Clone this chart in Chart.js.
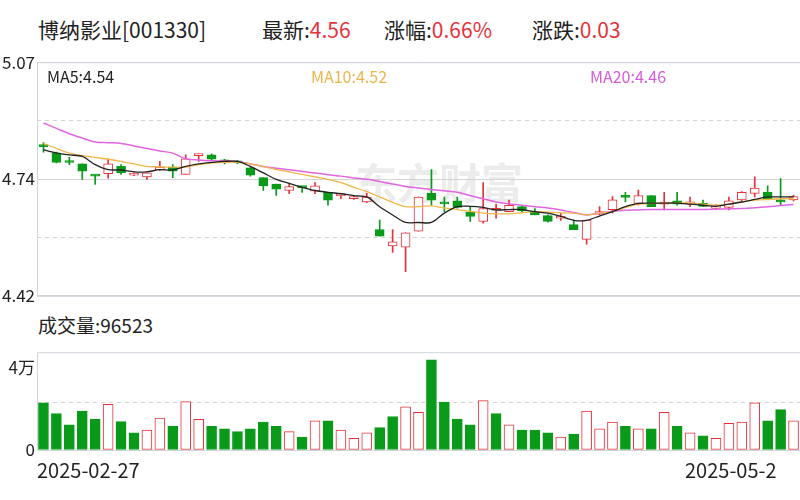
<!DOCTYPE html>
<html><head><meta charset="utf-8">
<script src="https://cdn.jsdelivr.net/npm/chart.js@4.4.1/dist/chart.umd.min.js"></script>
<style>
body{margin:0;width:800px;height:500px;overflow:hidden;background:#fff;font-family:"Noto Sans CJK SC",sans-serif;}
.t{position:absolute;white-space:nowrap;}
.r{color:#e5323a}
#c1{position:absolute;left:0;top:50px;}
#c2{position:absolute;left:0;top:340px;}
</style></head><body>
<div class="t" style="left:38px;top:14px;font-size:21px;color:#222" id="h0"></div>
<div class="t" style="left:262px;top:14px;font-size:21px;color:#222">最新:<span class="r" id="h1"></span></div>
<div class="t" style="left:384px;top:14px;font-size:21px;color:#222">涨幅:<span class="r" id="h2"></span></div>
<div class="t" style="left:532px;top:14px;font-size:21px;color:#222">涨跌:<span class="r" id="h3"></span></div>
<div class="t" style="left:355px;top:150px;font-size:42px;color:rgba(200,200,200,0.35);font-weight:bold">东方财富</div>
<canvas id="c1" width="800" height="258"></canvas>
<div class="t" style="left:47px;top:64px;font-size:16px;color:#222" id="m5"></div>
<div class="t" style="left:311px;top:64px;font-size:16px;color:#e8b64a" id="m10"></div>
<div class="t" style="left:590px;top:64px;font-size:16px;color:#d65bd6" id="m20"></div>
<div class="t" style="left:38px;top:311px;font-size:19px;color:#222" id="vl"></div>
<canvas id="c2" width="800" height="140"></canvas>
<div class="t" style="left:37px;top:455px;font-size:20px;color:#222" id="d0"></div>
<div class="t" style="left:685px;top:455px;font-size:20px;color:#222" id="d1"></div>
<script>
const opens =[4.84,4.817,4.794,4.787,4.756,4.76,4.78,4.756,4.751,4.77,4.778,4.758,4.81,4.812,4.794,4.794,4.776,4.749,4.731,4.713,4.722,4.711,4.708,4.698,4.69,4.681,4.604,4.559,4.555,4.60,4.705,4.677,4.684,4.652,4.627,4.658,4.654,4.668,4.656,4.643,4.636,4.618,4.577,4.647,4.66,4.695,4.677,4.699,4.675,4.684,4.676,4.678,4.663,4.666,4.687,4.705,4.708,4.687,4.687];
const highs =[4.846,4.82,4.805,4.787,4.756,4.801,4.785,4.762,4.762,4.794,4.785,4.812,4.814,4.815,4.80,4.797,4.78,4.749,4.731,4.731,4.722,4.735,4.708,4.703,4.698,4.705,4.631,4.604,4.595,4.695,4.771,4.695,4.695,4.668,4.735,4.675,4.686,4.672,4.663,4.645,4.65,4.631,4.631,4.668,4.696,4.708,4.714,4.699,4.708,4.708,4.695,4.686,4.674,4.695,4.71,4.751,4.726,4.746,4.70];
const lows  =[4.82,4.79,4.785,4.744,4.73,4.747,4.758,4.754,4.744,4.768,4.749,4.758,4.794,4.798,4.787,4.788,4.753,4.713,4.699,4.704,4.708,4.704,4.672,4.69,4.688,4.679,4.586,4.541,4.487,4.60,4.672,4.654,4.664,4.627,4.622,4.636,4.654,4.654,4.645,4.625,4.63,4.604,4.564,4.645,4.65,4.681,4.672,4.668,4.659,4.672,4.668,4.668,4.66,4.659,4.685,4.695,4.69,4.672,4.684];
const closes=[4.835,4.791,4.791,4.767,4.753,4.787,4.762,4.76,4.762,4.778,4.767,4.801,4.814,4.80,4.793,4.790,4.756,4.726,4.717,4.724,4.721,4.726,4.686,4.70,4.696,4.695,4.586,4.57,4.595,4.695,4.686,4.676,4.666,4.641,4.663,4.659,4.672,4.656,4.645,4.627,4.637,4.604,4.631,4.654,4.687,4.694,4.699,4.668,4.677,4.675,4.677,4.669,4.672,4.684,4.708,4.72,4.69,4.681,4.696];
const ma5 =[4.826,4.818,4.812,4.808,4.785,4.771,4.77,4.765,4.765,4.771,4.77,4.78,4.787,4.791,4.794,4.794,4.78,4.762,4.744,4.733,4.722,4.713,4.708,4.704,4.699,4.695,4.668,4.645,4.624,4.624,4.624,4.65,4.668,4.669,4.666,4.659,4.66,4.66,4.654,4.65,4.641,4.63,4.63,4.642,4.654,4.668,4.677,4.678,4.678,4.678,4.675,4.672,4.669,4.675,4.681,4.688,4.695,4.695,4.695];
const ma10=[4.844,4.83,4.817,4.81,4.805,4.8,4.794,4.787,4.78,4.779,4.778,4.778,4.785,4.79,4.791,4.792,4.787,4.78,4.771,4.765,4.758,4.751,4.744,4.735,4.722,4.71,4.695,4.68,4.668,4.668,4.67,4.664,4.66,4.655,4.65,4.648,4.648,4.651,4.654,4.653,4.651,4.65,4.645,4.65,4.654,4.665,4.675,4.677,4.678,4.678,4.678,4.675,4.672,4.675,4.681,4.686,4.688,4.69,4.69];
const ma20=[4.901,4.886,4.871,4.859,4.848,4.846,4.844,4.837,4.83,4.823,4.817,4.801,4.798,4.796,4.795,4.794,4.787,4.78,4.775,4.771,4.766,4.762,4.757,4.753,4.748,4.744,4.738,4.731,4.724,4.72,4.716,4.712,4.708,4.699,4.69,4.681,4.676,4.672,4.668,4.664,4.659,4.652,4.645,4.65,4.655,4.658,4.659,4.66,4.66,4.66,4.66,4.66,4.661,4.662,4.663,4.665,4.668,4.671,4.674];
const volumes=[22800,17600,12200,18800,14900,22100,13700,8300,9600,15400,11500,23400,14800,11500,10200,8900,10200,13500,11500,8900,6300,14100,14100,9600,5700,8300,10800,16200,20900,18200,43600,23200,14900,12200,23900,17600,12200,9600,9600,8300,6300,7700,18800,10200,13500,11500,10200,10200,18200,11500,8300,6900,5700,12900,13500,22800,14100,19500,14100];
const volUp=[0,0,0,0,0,1,0,0,1,1,0,1,1,0,0,0,0,0,0,1,0,1,0,1,1,1,0,0,1,1,0,0,0,0,1,0,1,0,0,0,1,0,1,1,1,0,1,0,1,0,1,0,1,1,1,1,0,0,1];
const priceTicks=[4.42,4.5825,4.745,4.9075,5.07];
const priceTickLabels={"4.42":"4.42","4.745":"4.74","5.07":"5.07"};
const volTicks=[0,23000,40000];
const volTickLabels={"0":"0","40000":"4万"};
const dateLabels=["2025-02-27","2025-05-2"];
const header=["博纳影业[001330]","4.56","0.66%","0.03"];
const maText=["MA5:4.54","MA10:4.52","MA20:4.46"];
const volText="成交量:96523";

['h0','h1','h2','h3'].forEach((id,i)=>document.getElementById(id).textContent=header[i]);
document.getElementById('m5').textContent=maText[0];
document.getElementById('m10').textContent=maText[1];
document.getElementById('m20').textContent=maText[2];
document.getElementById('vl').textContent=volText;
document.getElementById('d0').textContent=dateLabels[0];
document.getElementById('d1').textContent=dateLabels[1];

const RED='#e5323a', GREEN='#0a9a1a';
const cats=opens.map((_,i)=>i);
const up=opens.map((o,i)=>closes[i]>=o);
const frame={id:'frame',afterDraw(c){const a=c.chartArea,x=c.ctx;x.save();x.strokeStyle='#d0d4dc';x.lineWidth=1;x.strokeRect(a.left+0.5,a.top+0.5,a.right-a.left,a.bottom-a.top);x.restore();}};
const fix={afterFit(s){s.width=37;}};
const tickFont={size:17,family:'Noto Sans CJK SC'};

new Chart(document.getElementById('c1'),{
 type:'bar',
 data:{labels:cats,datasets:[
  {type:'line',data:ma5,borderColor:'#222',borderWidth:1.3,pointRadius:0,tension:0.3,order:0},
  {type:'line',data:ma10,borderColor:'#f0b64a',borderWidth:1.3,pointRadius:0,tension:0.3,order:0},
  {type:'line',data:ma20,borderColor:'#e066e0',borderWidth:1.5,pointRadius:0,tension:0.3,order:0},
  {data:opens.map((o,i)=>[o,closes[i]]),backgroundColor:up.map(u=>u?'#fff':GREEN),borderColor:up.map(u=>u?RED:GREEN),borderWidth:1,borderSkipped:false,barThickness:9,minBarLength:2,grouped:false,order:1},
  {data:lows.map((l,i)=>[l,highs[i]]),backgroundColor:up.map(u=>u?RED:GREEN),borderWidth:0,barThickness:1,grouped:false,order:2}
 ]},
 options:{responsive:false,animation:false,layout:{padding:{top:8,bottom:10,right:0}},
  plugins:{legend:{display:false},tooltip:{enabled:false}},
  scales:{
   x:{display:false,offset:true},
   y:{min:4.42,max:5.07,afterBuildTicks(s){s.ticks=priceTicks.map(v=>({value:v}));},...fix,
     ticks:{callback:v=>priceTickLabels[String(v)]||'',font:tickFont,color:'#222',padding:2},
     grid:{drawTicks:false,color:'#d4d4d4',lineWidth:1},
     border:{display:false,dash:c=>(c.index===1||c.index===3)?[4,4]:[]}}
  }},
 plugins:[frame]
});

new Chart(document.getElementById('c2'),{
 type:'bar',
 data:{labels:cats,datasets:[{data:volumes,backgroundColor:volUp.map(u=>u?'#fff':GREEN),borderColor:volUp.map(u=>u?RED:GREEN),borderWidth:1,borderSkipped:false,barThickness:10}]},
 options:{responsive:false,animation:false,layout:{padding:{top:8,bottom:30}},
  plugins:{legend:{display:false},tooltip:{enabled:false}},
  scales:{
   x:{display:false,offset:true},
   y:{min:0,max:47300,afterBuildTicks(s){s.ticks=volTicks.map(v=>({value:v}));},...fix,
     ticks:{callback:v=>volTickLabels[String(v)]||'',font:tickFont,color:'#222',padding:2},
     grid:{drawTicks:false,color:c=>c.index===1?'#d4d4d4':'rgba(0,0,0,0)'},
     border:{display:false,dash:[4,4]}}
  }},
 plugins:[frame]
});
</script></body></html>
